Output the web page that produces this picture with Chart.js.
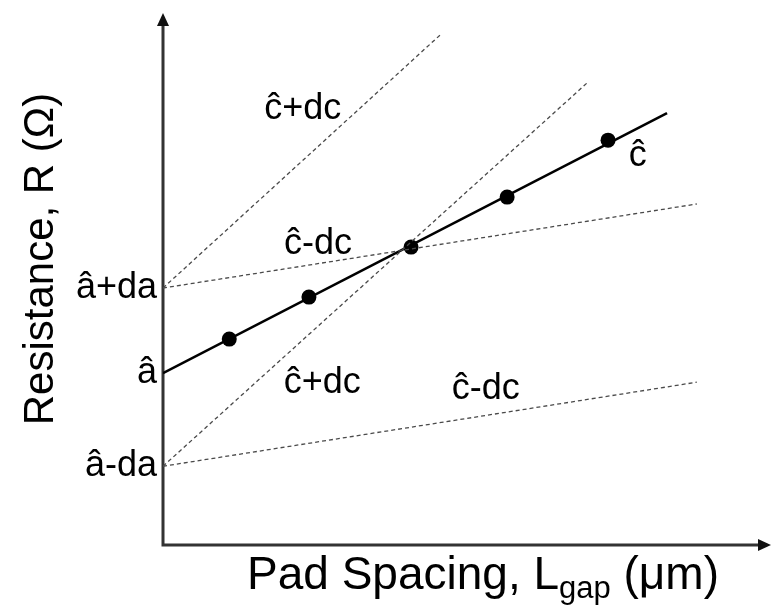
<!DOCTYPE html>
<html>
<head>
<meta charset="utf-8">
<script src="https://cdn.jsdelivr.net/npm/chart.js@4.4.1/dist/chart.umd.min.js"></script>
<style>
  html, body { margin: 0; padding: 0; background: #fff; overflow: hidden; }
  canvas { display: block; }
</style>
</head>
<body>
<canvas id="fitChart" width="771" height="610"></canvas>
<script>
// Measured resistance vs pad spacing
const measX = [1.09, 2.40, 4.08, 5.66, 7.32];
const measY = [3.87, 4.66, 5.60, 6.54, 7.61];

// Least-squares fit line (intercept â, slope ĉ)
const fitX = [0, 8.29];
const fitY = [3.23, 8.12];

// Bounding lines from the intercept / slope uncertainties
const upperSteepX = [0, 4.59];
const upperSteepY = [4.83, 9.62];
const upperFlatX = [0, 8.78];
const upperFlatY = [4.83, 6.41];
const lowerSteepX = [0, 6.97];
const lowerSteepY = [1.48, 8.68];
const lowerFlatX = [0, 8.78];
const lowerFlatY = [1.48, 3.06];

// Y axis marks: â-da, â, â+da
const interceptVals = [1.48, 3.23, 4.83];
const interceptLabels = ['â-da', 'â', 'â+da'];

const FONT = '"Liberation Sans", Arial, sans-serif';

function pts(xs, ys) {
  return xs.map((x, i) => ({ x: x, y: ys[i] }));
}

function dashed(xs, ys) {
  return {
    data: pts(xs, ys),
    borderColor: '#4a4a4a',
    borderWidth: 1.3,
    borderDash: [4, 3],
    pointRadius: 0,
    fill: false
  };
}

// Line annotations placed in data units
const lineNotes = [
  { text: 'ĉ+dc', x: 2.30, y: 8.20 },
  { text: 'ĉ-dc', x: 2.55, y: 5.66 },
  { text: 'ĉ+dc', x: 2.62, y: 3.05 },
  { text: 'ĉ-dc', x: 5.31, y: 2.93 },
  { text: 'ĉ', x: 7.81, y: 7.31 }
];

const axesPlugin = {
  id: 'arrowAxes',
  beforeDatasetsDraw(chart) {
    const { ctx, chartArea: a } = chart;
    ctx.save();
    ctx.strokeStyle = '#333';
    ctx.fillStyle = '#111';
    ctx.lineWidth = 3;
    ctx.beginPath();
    ctx.moveTo(a.left, a.top + 10);
    ctx.lineTo(a.left, a.bottom);
    ctx.lineTo(a.right - 10, a.bottom);
    ctx.stroke();

    // arrow heads
    ctx.beginPath();
    ctx.moveTo(a.left, a.top);
    ctx.lineTo(a.left - 6, a.top + 13);
    ctx.lineTo(a.left + 6, a.top + 13);
    ctx.closePath();
    ctx.fill();
    ctx.beginPath();
    ctx.moveTo(a.right, a.bottom);
    ctx.lineTo(a.right - 13, a.bottom - 6);
    ctx.lineTo(a.right - 13, a.bottom + 6);
    ctx.closePath();
    ctx.fill();
    ctx.restore();
  },
  afterDraw(chart) {
    const { ctx, chartArea: a } = chart;
    const xs = chart.scales.x;
    const ys = chart.scales.y;
    ctx.save();
    ctx.fillStyle = '#000';

    // intercept labels on the y axis
    ctx.font = '36px ' + FONT;
    ctx.textAlign = 'right';
    ctx.textBaseline = 'alphabetic';
    interceptVals.forEach((v, i) => {
      ctx.fillText(interceptLabels[i], a.left - 6, ys.getPixelForValue(v) + 10);
    });

    // line labels
    ctx.textAlign = 'center';
    ctx.textBaseline = 'middle';
    lineNotes.forEach((n) => {
      ctx.fillText(n.text, xs.getPixelForValue(n.x), ys.getPixelForValue(n.y));
    });

    // y title
    ctx.font = '42px ' + FONT;
    ctx.save();
    ctx.translate(41, 259);
    ctx.rotate(-Math.PI / 2);
    ctx.fillText('Resistance, R (Ω)', 0, 0);
    ctx.restore();

    // x title with subscript
    const big = '46px ' + FONT;
    const small = '31px ' + FONT;
    const p1 = 'Pad Spacing, L';
    const p2 = 'gap';
    const p3 = ' (μm)';
    ctx.font = big;
    const w1 = ctx.measureText(p1).width;
    const w3 = ctx.measureText(p3).width;
    ctx.font = small;
    const w2 = ctx.measureText(p2).width;
    let x = 483 - (w1 + w2 + w3) / 2;
    const base = 589;
    ctx.textAlign = 'left';
    ctx.textBaseline = 'alphabetic';
    ctx.font = big;
    ctx.fillText(p1, x, base);
    x += w1;
    ctx.font = small;
    ctx.fillText(p2, x, base + 9);
    x += w2;
    ctx.font = big;
    ctx.fillText(p3, x, base);
    ctx.restore();
  }
};

new Chart(document.getElementById('fitChart'), {
  type: 'line',
  data: {
    datasets: [
      dashed(upperSteepX, upperSteepY),
      dashed(upperFlatX, upperFlatY),
      dashed(lowerSteepX, lowerSteepY),
      dashed(lowerFlatX, lowerFlatY),
      {
        data: pts(fitX, fitY),
        borderColor: '#000',
        borderWidth: 2.5,
        pointRadius: 0,
        fill: false
      },
      {
        data: pts(measX, measY),
        showLine: false,
        pointRadius: 7.5,
        pointBackgroundColor: '#000',
        pointBorderWidth: 0
      }
    ]
  },
  options: {
    responsive: false,
    animation: false,
    layout: {
      autoPadding: false,
      padding: { left: 163, right: 0, top: 13, bottom: 65 }
    },
    scales: {
      x: { type: 'linear', min: 0, max: 10, display: false },
      y: { type: 'linear', min: 0, max: 10, display: false }
    },
    plugins: {
      legend: { display: false },
      tooltip: { enabled: false }
    }
  },
  plugins: [axesPlugin]
});
</script>
</body>
</html>
